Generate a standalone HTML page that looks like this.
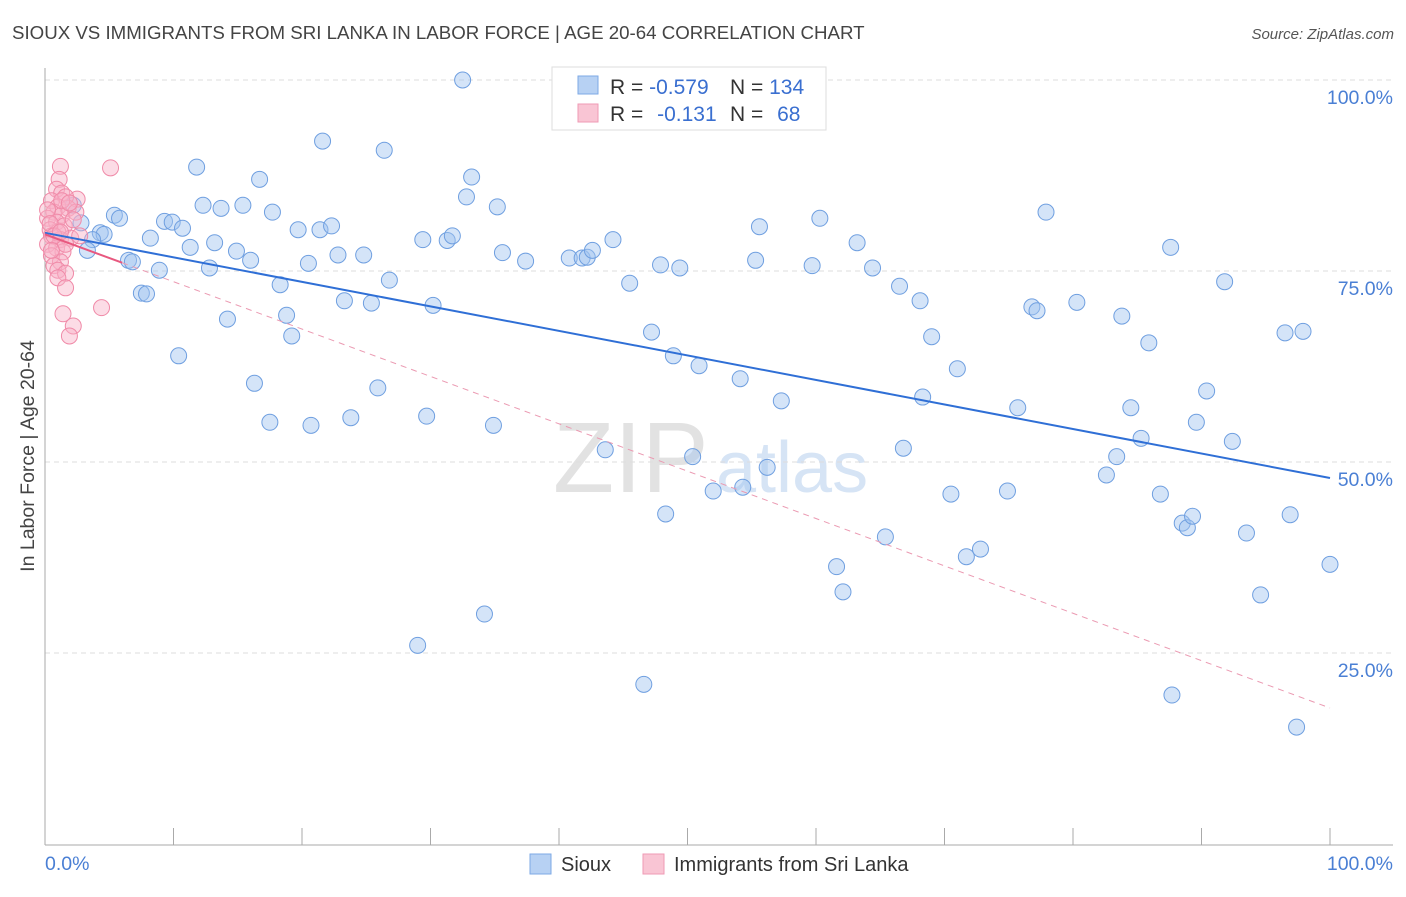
<!DOCTYPE html>
<html><head><meta charset="utf-8"><style>
body{margin:0;background:#fff;font-family:"Liberation Sans",sans-serif;}
svg text{font-family:"Liberation Sans",sans-serif;}
</style></head><body>
<svg id="chart" width="1406" height="892" viewBox="0 0 1406 892">
<text x="12" y="39" font-size="18.7" fill="#444">SIOUX VS IMMIGRANTS FROM SRI LANKA IN LABOR FORCE | AGE 20-64 CORRELATION CHART</text>
<text x="1394" y="39" font-size="15" fill="#555" font-style="italic" text-anchor="end">Source: ZipAtlas.com</text>
<g>
<text x="553" y="492" font-size="100" fill="#e2e2e2" font-family="Liberation Serif, serif">ZIP</text>
<text x="716" y="492" font-size="72" fill="#d6e4f5">atlas</text>
</g>
<g id="grid"></g>
<g id="axes"></g>
<g id="pts"></g>
<g id="trends"></g>
<text x="34" y="456" font-size="19.5" fill="#444" text-anchor="middle" transform="rotate(-90 34 456)">In Labor Force | Age 20-64</text>
<text x="45" y="870" font-size="19.5" fill="#4a7fd4">0.0%</text>
<text x="1393" y="870" font-size="19.5" fill="#4a7fd4" text-anchor="end">100.0%</text>
<g>
<rect x="552" y="67" width="274" height="63" fill="#fff" stroke="#ddd"/>
<rect x="578" y="76" width="20" height="18" fill="#b7d1f3" stroke="#7ea9e6"/>
<rect x="578" y="104" width="20" height="18" fill="#f9c5d4" stroke="#ef9ab4"/>
<text x="610" y="94" font-size="21" fill="#333">R = <tspan fill="#3a6fd0">-0.579</tspan></text>
<text x="730" y="94" font-size="21" fill="#333">N = <tspan fill="#3a6fd0">134</tspan></text>
<text x="610" y="121" font-size="21" fill="#333">R = <tspan fill="#3a6fd0" dx="8">-0.131</tspan></text>
<text x="730" y="121" font-size="21" fill="#333">N = <tspan fill="#3a6fd0" dx="8">68</tspan></text>
</g>
<g>
<rect x="530" y="854" width="21" height="20" fill="#b7d1f3" stroke="#7ea9e6"/>
<text x="561" y="871" font-size="20" fill="#333">Sioux</text>
<rect x="643" y="854" width="21" height="20" fill="#f9c5d4" stroke="#ef9ab4"/>
<text x="674" y="871" font-size="20" fill="#333">Immigrants from Sri Lanka</text>
</g>
</svg>
<script>
const yTicks=[100,75,50,25];
const yTickLabels=["100.0%","75.0%","50.0%","25.0%"];
const xTicks=[0,10,20,30,40,50,60,70,80,90,100];
const siouxX=[32.5,21.6,26.4,11.8,16.7,33.2,32.8,12.3,13.7,15.4,35.2,17.7,5.4,5.8,9.3,9.9,2.8,10.7,19.7,21.4,22.3,2.2,4.3,4.6,3.7,8.2,13.2,3.3,14.9,11.3,29.4,31.3,31.7,35.6,37.4,40.8,41.8,42.2,42.6,44.2,55.6,60.3,63.2,77.9,87.6,6.5,6.8,16.0,20.5,22.8,24.8,8.9,12.8,26.8,47.9,49.4,55.3,59.7,64.4,18.3,45.5,66.5,7.5,7.9,23.3,25.4,30.2,68.1,76.8,77.2,80.3,83.8,91.8,14.2,18.8,19.2,47.2,69.0,85.9,96.5,97.9,10.4,48.9,50.9,71.0,16.3,25.9,54.1,68.3,90.4,57.3,75.7,84.5,17.5,20.7,23.8,29.7,34.9,89.6,85.3,92.4,43.6,66.8,50.4,83.4,56.2,82.6,52.0,54.3,70.5,74.9,86.8,48.3,88.5,88.9,89.3,96.9,65.4,93.5,71.7,72.8,61.6,100,62.1,94.6,34.2,29.0,46.6,87.7,97.4];
const siouxY=[100,92.0,90.8,88.6,87.0,87.3,84.7,83.6,83.2,83.6,83.4,82.7,82.3,81.9,81.5,81.4,81.3,80.6,80.4,80.4,80.9,83.6,80.0,79.8,79.1,79.3,78.7,77.7,77.6,78.1,79.1,79.0,79.6,77.4,76.3,76.7,76.7,76.8,77.7,79.1,80.8,81.9,78.7,82.7,78.1,76.4,76.2,76.4,76.0,77.1,77.1,75.1,75.4,73.8,75.8,75.4,76.4,75.7,75.4,73.2,73.4,73.0,72.1,72.0,71.1,70.8,70.5,71.1,70.3,69.8,70.9,69.1,73.6,68.7,69.2,66.5,67.0,66.4,65.6,66.9,67.1,63.9,63.9,62.6,62.2,60.3,59.7,60.9,58.5,59.3,58.0,57.1,57.1,55.2,54.8,55.8,56.0,54.8,55.2,53.1,52.7,51.6,51.8,50.7,50.7,49.3,48.3,46.2,46.7,45.8,46.2,45.8,43.2,42.0,41.4,42.9,43.1,40.2,40.7,37.6,38.6,36.3,36.6,33.0,32.6,30.1,26.0,20.9,19.5,15.3];
const slX=[1.2,5.1,1.1,0.9,1.3,2.5,1.6,0.5,1.0,1.8,0.7,1.3,0.2,0.9,1.5,0.4,1.0,0.5,1.2,2.0,2.7,0.2,0.9,1.4,0.5,1.2,0.7,1.0,1.6,1.0,1.6,4.4,1.4,2.2,1.9,2.4,2.2,1.6,0.2,0.4,0.7,1.3,1.9,1.2,0.5];
const slY=[88.7,88.5,87.0,85.7,85.2,84.4,84.7,84.2,83.4,83.2,82.7,82.3,81.9,81.4,80.9,80.4,80.1,79.6,79.1,79.3,79.6,78.5,78.0,77.5,77.0,76.2,75.7,75.1,74.7,74.1,72.8,70.2,69.4,67.8,66.5,82.7,81.7,78.5,83.0,81.2,79.6,84.2,83.9,80.1,77.7];
const siouxTrend=[80.0,47.9];
const slTrend=[79.8,17.8];
const slSolidEnd=6;

const X0=45,X1=1330,Y0=844,YS=7.64;
const xs=v=>X0+v*(X1-X0)/100;
const ys=v=>Y0-v*YS;
const NS="http://www.w3.org/2000/svg";
function mk(tag,attrs,parent){const e=document.createElementNS(NS,tag);for(const k in attrs)e.setAttribute(k,attrs[k]);parent.appendChild(e);return e;}
const grid=document.getElementById('grid'),axes=document.getElementById('axes'),pts=document.getElementById('pts'),tr=document.getElementById('trends');
yTicks.forEach((t,i)=>{
 const l=mk('line',{x1:45,x2:1393,y1:ys(t),y2:ys(t),stroke:'#ddd','stroke-dasharray':'5,4'},grid);
 
 
 const tx=mk('text',{x:1393,y:ys(t)+24,'font-size':19.5,fill:'#4a7fd4','text-anchor':'end'},grid);
 tx.textContent=yTickLabels[i];
 
 
});
let a=mk('line',{x1:45,x2:45,y1:68,y2:845,stroke:'#aaa'},axes);


a=mk('line',{x1:45,x2:1393,y1:845,y2:845,stroke:'#aaa'},axes);


xTicks.forEach(t=>{
 const l=mk('line',{x1:xs(t),x2:xs(t),y1:828,y2:845,stroke:'#aaa'},axes);
 
 
});
siouxX.forEach((x,i)=>{
 const c=mk('circle',{cx:xs(x),cy:ys(siouxY[i]),r:8,fill:'rgba(160,195,240,0.45)',stroke:'#6f9fe0','stroke-width':1},pts);
 
 
});
slX.forEach((x,i)=>{
 const c=mk('circle',{cx:xs(x),cy:ys(slY[i]),r:8,fill:'rgba(248,178,200,0.45)',stroke:'#f08aa8','stroke-width':1},pts);
 
 
});
let t=mk('line',{x1:xs(0),y1:ys(siouxTrend[0]),x2:xs(100),y2:ys(siouxTrend[1]),stroke:'#2f6fd6','stroke-width':2},tr);


const slAt=v=>slTrend[0]+(slTrend[1]-slTrend[0])*v/100;
t=mk('line',{x1:xs(0),y1:ys(slTrend[0]),x2:xs(slSolidEnd),y2:ys(slAt(slSolidEnd)),stroke:'#e8587f','stroke-width':2},tr);


t=mk('line',{x1:xs(slSolidEnd),y1:ys(slAt(slSolidEnd)),x2:xs(100),y2:ys(slTrend[1]),stroke:'#eb9ab2','stroke-width':1,'stroke-dasharray':'6,5'},tr);


</script>
</body></html>
